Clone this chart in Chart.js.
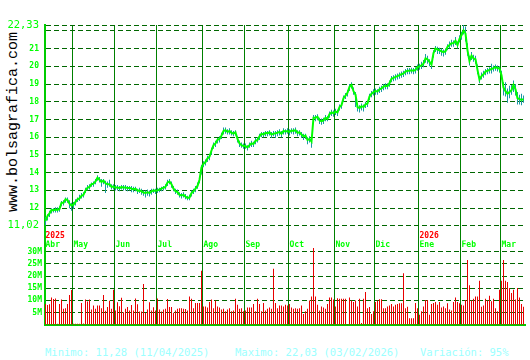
<!DOCTYPE html>
<html lang="es">
<head>
<meta charset="UTF-8">
<title>bolsagrafica - cotización</title>
<style>
  html, body { margin: 0; padding: 0; background: #fff; }
  #marco { position: relative; width: 530px; height: 360px; overflow: hidden; }
  canvas { position: absolute; left: 0; }
  #precio { top: 0; z-index: 2; }
  #volumen { top: 240px; z-index: 1; }
  .pie { position: absolute; top: 346px; font: 10.5px 'DejaVu Sans Mono', monospace; color: #9cffff; line-height: 13px; white-space: nowrap; }
  #web { position: absolute; left: 13px; top: 122px; transform: translate(-50%, -50%) rotate(-90deg); font: 15px 'Liberation Mono', monospace; color: #000; white-space: nowrap; }
</style>
</head>
<body>
<div id="marco">
  <div id="web">www.bolsagrafica.com</div>
  <canvas id="volumen" width="530" height="92"></canvas>
  <canvas id="precio" width="530" height="250"></canvas>
  <div class="pie" style="left:45px">Minimo: 11,28 (11/04/2025)</div>
  <div class="pie" style="left:235px">Maximo: 22,03 (03/02/2026)</div>
  <div class="pie" style="left:420px">Variación: 95%</div>
</div>

<script src="https://cdn.jsdelivr.net/npm/chart.js"></script>
<script>
// Meses y años (índice de la primera sesión de cada uno)
const meses = ['Abr', 'May', 'Jun', 'Jul', 'Ago', 'Sep', 'Oct', 'Nov', 'Dic', 'Ene', 'Feb', 'Mar'];
const inicioMes = [0, 14, 35, 56, 79, 100, 122, 145, 165, 187, 208, 228];
const anios = ['2025', '2026'];
const inicioAnio = [0, 187];

// Cotización diaria
const cierres = [
  11.28, 11.55, 11.70, 11.90, 11.88, 11.92, 11.90, 11.95, 12.30, 12.30,
  12.50, 12.45, 12.25, 12.15, 12.20, 12.35, 12.50, 12.55, 12.70, 12.75,
  13.00, 13.15, 13.20, 13.35, 13.38, 13.50, 13.72, 13.60, 13.48, 13.55,
  13.40, 13.35, 13.35, 13.20, 13.22, 13.15, 13.18, 13.12, 13.20, 13.15,
  13.18, 13.12, 13.15, 13.10, 13.05, 13.10, 12.98, 13.00, 12.95, 12.88,
  12.85, 12.90, 12.85, 12.95, 13.00, 12.98, 13.00, 13.05, 13.10, 13.15,
  13.20, 13.45, 13.50, 13.35, 13.10, 12.95, 12.90, 12.75, 12.72, 12.75,
  12.65, 12.58, 12.60, 12.85, 12.95, 13.10, 13.25, 13.60, 14.30, 14.50,
  14.60, 14.80, 14.90, 15.25, 15.55, 15.65, 15.85, 15.90, 16.10, 16.35,
  16.40, 16.30, 16.35, 16.25, 16.20, 16.28, 15.90, 15.65, 15.55, 15.50,
  15.50, 15.42, 15.55, 15.65, 15.62, 15.80, 15.85, 16.05, 16.20, 16.15,
  16.25, 16.22, 16.28, 16.15, 16.20, 16.22, 16.25, 16.30, 16.20, 16.35,
  16.32, 16.35, 16.30, 16.38, 16.35, 16.40, 16.25, 16.28, 16.15, 16.05,
  16.10, 15.85, 15.90, 15.75, 17.10, 17.10, 17.15, 16.95, 16.90, 16.95,
  17.10, 17.05, 17.30, 17.40, 17.35, 17.45, 17.40, 17.70, 17.80, 18.20,
  18.35, 18.50, 18.85, 18.95, 18.60, 18.40, 17.70, 17.65, 17.75, 17.70,
  17.85, 17.90, 18.30, 18.45, 18.55, 18.60, 18.58, 18.70, 18.75, 18.85,
  18.90, 18.88, 19.05, 19.30, 19.35, 19.40, 19.45, 19.50, 19.55, 19.60,
  19.70, 19.75, 19.75, 19.78, 19.75, 19.80, 19.95, 20.00, 20.05, 20.15,
  20.45, 20.40, 20.25, 20.10, 20.75, 21.00, 20.95, 20.90, 20.85, 20.80,
  20.85, 21.10, 21.20, 21.30, 21.30, 21.45, 21.20, 21.55, 21.75, 22.03,
  21.85, 20.90, 20.30, 20.60, 20.45, 20.40, 19.80, 19.25, 19.45, 19.55,
  19.70, 19.75, 19.80, 19.85, 19.90, 19.95, 19.90, 19.88, 19.50, 18.80,
  18.60, 18.45, 18.55, 18.65, 18.95, 18.70, 18.20, 18.15, 18.10, 18.15
];
const maximos = [
  11.50, 11.65, 11.85, 12.00, 12.00, 12.05, 12.05, 12.10, 12.40, 12.45,
  12.60, 12.60, 12.45, 12.30, 12.35, 12.50, 12.60, 12.75, 12.85, 12.90,
  13.15, 13.30, 13.35, 13.45, 13.50, 13.65, 13.85, 13.75, 13.65, 13.65,
  13.55, 13.50, 13.60, 13.35, 13.35, 13.30, 13.30, 13.25, 13.30, 13.30,
  13.30, 13.25, 13.25, 13.25, 13.20, 13.20, 13.10, 13.15, 13.10, 13.00,
  13.00, 13.05, 13.00, 13.10, 13.10, 13.10, 13.15, 13.15, 13.20, 13.25,
  13.35, 13.60, 13.65, 13.50, 13.25, 13.10, 13.05, 12.90, 12.85, 12.90,
  12.80, 12.70, 12.75, 13.00, 13.10, 13.25, 13.45, 13.75, 14.45, 14.65,
  14.75, 14.95, 15.05, 15.40, 15.70, 15.80, 15.95, 16.05, 16.25, 16.55,
  16.55, 16.45, 16.50, 16.40, 16.35, 16.40, 16.05, 15.80, 15.70, 15.65,
  15.65, 15.55, 15.70, 15.80, 15.75, 15.95, 16.00, 16.20, 16.30, 16.30,
  16.35, 16.35, 16.40, 16.30, 16.35, 16.35, 16.40, 16.45, 16.35, 16.50,
  16.45, 16.50, 16.45, 16.50, 16.50, 16.55, 16.40, 16.40, 16.30, 16.20,
  16.20, 16.00, 16.05, 15.90, 17.25, 17.25, 17.30, 17.10, 17.05, 17.10,
  17.25, 17.20, 17.45, 17.55, 17.50, 17.60, 17.55, 17.85, 17.95, 18.35,
  18.50, 18.65, 19.00, 19.10, 18.80, 18.55, 17.90, 17.80, 17.90, 17.85,
  18.00, 18.05, 18.45, 18.60, 18.70, 18.75, 18.70, 18.85, 18.90, 19.00,
  19.05, 19.05, 19.20, 19.45, 19.50, 19.55, 19.60, 19.65, 19.70, 19.75,
  19.85, 19.90, 19.90, 19.92, 19.90, 19.95, 20.10, 20.15, 20.25, 20.35,
  20.70, 20.60, 20.40, 20.30, 20.90, 21.15, 21.10, 21.05, 21.00, 20.95,
  21.00, 21.25, 21.40, 21.50, 21.45, 21.65, 21.40, 21.75, 21.95, 22.33,
  22.25, 21.30, 20.60, 20.80, 20.65, 20.60, 20.10, 19.45, 19.65, 19.75,
  19.85, 19.90, 19.95, 20.15, 20.05, 20.10, 20.05, 20.00, 19.75, 19.10,
  19.10, 18.75, 18.90, 18.95, 19.20, 19.00, 18.55, 18.40, 18.45, 18.35
];
const minimos = [
  11.02, 11.30, 11.50, 11.70, 11.75, 11.75, 11.75, 11.80, 12.10, 12.15,
  12.30, 12.30, 12.00, 11.85, 11.95, 12.15, 12.35, 12.40, 12.55, 12.60,
  12.85, 13.00, 13.05, 13.20, 13.20, 13.35, 13.55, 13.45, 13.20, 13.35,
  12.85, 13.15, 13.20, 13.05, 13.05, 13.00, 13.00, 12.95, 13.05, 13.00,
  13.00, 12.95, 13.00, 12.90, 12.90, 12.95, 12.80, 12.85, 12.75, 12.70,
  12.60, 12.70, 12.65, 12.75, 12.85, 12.80, 12.85, 12.90, 12.95, 13.00,
  13.05, 13.25, 13.35, 13.15, 12.95, 12.80, 12.75, 12.60, 12.55, 12.60,
  12.50, 12.45, 12.45, 12.65, 12.80, 12.90, 13.10, 13.40, 13.90, 14.30,
  14.40, 14.60, 14.70, 15.00, 15.35, 15.45, 15.65, 15.70, 15.90, 16.15,
  16.20, 16.15, 16.15, 16.10, 16.05, 16.10, 15.70, 15.45, 15.40, 15.35,
  15.35, 15.25, 15.40, 15.45, 15.45, 15.60, 15.70, 15.85, 16.00, 16.00,
  16.05, 16.05, 16.10, 15.95, 16.05, 15.95, 16.05, 16.10, 16.00, 16.15,
  16.15, 16.20, 16.10, 16.20, 16.15, 16.20, 16.05, 16.10, 15.95, 15.85,
  15.90, 15.60, 15.70, 15.40, 16.95, 16.90, 16.95, 16.75, 16.70, 16.75,
  16.90, 16.90, 17.10, 17.20, 17.15, 17.25, 17.20, 17.50, 17.60, 18.00,
  18.15, 18.30, 18.60, 18.75, 18.40, 17.70, 17.45, 17.40, 17.50, 17.45,
  17.65, 17.70, 18.10, 18.25, 18.35, 18.40, 18.40, 18.50, 18.55, 18.65,
  18.70, 18.70, 18.85, 19.10, 19.15, 19.20, 19.25, 19.30, 19.35, 19.40,
  19.50, 19.55, 19.55, 19.60, 19.55, 19.60, 19.75, 19.80, 19.85, 19.95,
  20.20, 20.15, 20.00, 19.85, 20.50, 20.80, 20.70, 20.70, 20.60, 20.55,
  20.65, 20.90, 21.00, 21.10, 21.10, 21.20, 21.00, 21.35, 21.50, 21.80,
  21.40, 20.60, 20.05, 20.35, 20.25, 20.15, 19.55, 19.05, 19.25, 19.35,
  19.50, 19.55, 19.60, 19.60, 19.70, 19.75, 19.70, 19.65, 19.25, 18.35,
  18.30, 17.95, 18.20, 18.40, 18.55, 18.35, 17.85, 17.85, 17.80, 17.95
];

// Volumen diario (millones)
const volumen = [
  8.5, 8.1, 8.4, 11.2, 10.6, 10.8, 0.4, 8.5, 10.3, 6.5,
  6.8, 8.5, 12.2, 14.2, 0.4, 0.4, 0.4, 0.4, 8.9, 0.5,
  10.3, 9.5, 10.3, 6.2, 7.9, 6.5, 7.9, 7.9, 6.8, 12.2,
  5.7, 7.3, 9.8, 6.5, 14.4, 5.8, 9.2, 7.6, 11.1, 5.1,
  6.5, 7.3, 5.8, 8.1, 5.8, 10.8, 8.4, 5.4, 5.4, 16.7,
  4.9, 6.2, 9.2, 5.8, 7.2, 5.8, 10.8, 6.2, 5.4, 6.2,
  6.5, 10.6, 7.3, 7.3, 4.9, 5.8, 6.5, 6.8, 6.8, 6.6,
  6.4, 5.8, 11.6, 10.7, 6.8, 8.9, 8.9, 8.9, 22.2, 7.5,
  7.5, 7.1, 9.3, 10.3, 6.8, 9.9, 7.5, 7.1, 6.2, 6.6,
  5.5, 6.2, 6.8, 5.5, 5.8, 10.7, 8.2, 6.6, 6.8, 5.5,
  5.8, 7.1, 7.1, 7.1, 8.5, 5.5, 10.7, 8.5, 5.5, 8.9,
  5.8, 6.6, 7.1, 6.6, 23.0, 8.9, 6.8, 7.9, 7.9, 7.5,
  8.2, 7.9, 8.5, 7.1, 6.6, 6.8, 6.6, 6.8, 7.9, 4.4,
  5.5, 6.6, 9.9, 11.6, 31.5, 11.6, 8.2, 5.8, 7.5, 7.1,
  6.6, 8.5, 11.2, 11.2, 10.3, 7.5, 10.9, 10.7, 10.7, 10.7,
  10.7, 0.3, 11.2, 9.9, 9.3, 9.9, 7.5, 10.7, 0.7, 10.7,
  13.4, 6.8, 7.3, 4.4, 5.5, 9.3, 9.9, 10.5, 10.5, 6.8,
  6.8, 7.5, 7.9, 8.5, 7.5, 8.2, 8.5, 8.8, 8.8, 21.1,
  6.8, 7.4, 2.7, 2.7, 2.7, 8.9, 6.8, 4.1, 5.5, 7.5,
  10.1, 10.1, 4.1, 8.5, 8.9, 9.3, 8.2, 9.3, 7.1, 7.5,
  6.8, 8.8, 6.2, 5.8, 9.3, 11.2, 9.3, 8.8, 8.2, 7.9,
  10.1, 26.6, 16.2, 9.9, 10.7, 11.6, 11.6, 18.1, 7.4, 7.9,
  10.7, 9.9, 11.9, 9.6, 10.7, 6.8, 5.5, 14.4, 18.1, 26.6,
  18.1, 17.5, 15.1, 13.0, 14.4, 10.3, 15.1, 11.2, 8.5, 7.4
];

// Marcas de los ejes
const ticksPrecio = [11.02, 12, 13, 14, 15, 16, 17, 18, 19, 20, 21, 22, 22.33];
const ticksVolumen = [5, 10, 15, 20, 25, 30];

const VERDE = '#00ff00';
const VERDE_EJE = '#00cc00';
const REJILLA = '#006600';
const LINEA_MES = '#008000';
const FUENTE = 'DejaVu Sans Mono';

const etiquetas = cierres.map((_, i) => i);
const velas = minimos.map((m, i) => [m, maximos[i]]);

// Solo se pintan las líneas verticales de inicio de mes
function colorMes(c) {
    if (c.index === 0) return VERDE_EJE;
    return inicioMes.includes(c.index) ? LINEA_MES : 'rgba(0,0,0,0)';
}
function anchoMes(c) {
    return c.index === 0 ? 2 : 1;
}

// Gráfico de precio
new Chart(document.getElementById('precio'), {
    type: 'bar',
    data: {
        labels: etiquetas,
        datasets: [
            {
                type: 'line',
                data: cierres,
                borderColor: VERDE,
                borderWidth: 2,
                pointRadius: 0,
                tension: 0,
                order: 0
            },
            {
                type: 'bar',
                data: velas,
                backgroundColor: '#1c98a6',
                barThickness: 1,
                inflateAmount: 0,
                order: 1
            }
        ]
    },
    options: {
        responsive: false,
        animation: false,
        devicePixelRatio: 1,
        layout: { padding: { top: 25, right: 5.5, left: 0, bottom: 0 } },
        plugins: { legend: { display: false }, tooltip: { enabled: false } },
        scales: {
            // años (rojo) justo bajo el gráfico; las marcas prolongan las líneas de mes
            x: {
                type: 'category',
                position: 'bottom',
                offset: true,
                weight: 0,
                grid: { offset: true, color: colorMes, lineWidth: anchoMes, tickColor: colorMes, tickWidth: anchoMes, drawTicks: true, tickLength: 25 },
                border: { display: false },
                ticks: {
                    autoSkip: false, maxRotation: 0, minRotation: 0, align: 'start', padding: -19,
                    color: '#ff0000',
                    font: { family: FUENTE, size: 8, weight: 'bold' },
                    callback: (v, i) => {
                        const k = inicioAnio.indexOf(i);
                        return k >= 0 ? anios[k] : '';
                    }
                },
                afterFit: s => { s.height = 15; }
            },
            // meses (verde)
            x2: {
                type: 'category',
                axis: 'x',
                position: 'bottom',
                offset: true,
                weight: 1,
                grid: { display: false, drawTicks: false },
                border: { display: false },
                ticks: {
                    autoSkip: false, maxRotation: 0, minRotation: 0, align: 'start', padding: -0.5,
                    color: VERDE,
                    font: { family: FUENTE, size: 8, weight: 'bold' },
                    callback: (v, i) => {
                        const k = inicioMes.indexOf(i);
                        return k >= 0 ? meses[k] : '';
                    }
                },
                afterFit: s => { s.height = 9.5; }
            },
            y: {
                min: 11.02,
                max: 22.33,
                afterBuildTicks: s => { s.ticks = ticksPrecio.map(v => ({ value: v })); },
                grid: { color: REJILLA, drawTicks: false },
                border: { display: true, color: VERDE_EJE, width: 2, dash: [5, 3] },
                ticks: {
                    padding: 5.5,
                    color: VERDE,
                    font: c => (c.tick && (c.tick.value === 11.02 || c.tick.value === 22.33))
                        ? { family: FUENTE, size: 10.5, weight: 'normal' }
                        : { family: FUENTE, size: 8, weight: 'bold' },
                    callback: v => v === 22 ? '' : String(v).replace('.', ',')
                },
                afterFit: s => { s.width = 44.5; }
            }
        }
    }
});

// Gráfico de volumen
new Chart(document.getElementById('volumen'), {
    type: 'bar',
    data: {
        labels: etiquetas,
        datasets: [{
            data: volumen,
            backgroundColor: '#e80000',
            barThickness: 1,
            inflateAmount: 0
        }]
    },
    options: {
        responsive: false,
        animation: false,
        devicePixelRatio: 1,
        layout: { padding: { top: 8, right: 5.5, left: 0, bottom: 0 } },
        plugins: { legend: { display: false }, tooltip: { enabled: false } },
        scales: {
            x: {
                type: 'category',
                offset: true,
                grid: { offset: true, color: colorMes, lineWidth: anchoMes, drawTicks: false },
                border: { display: true, color: VERDE_EJE, width: 2 },
                ticks: { display: false },
                afterFit: s => { s.height = 6; }
            },
            y: {
                min: 0,
                max: 31.5,
                afterBuildTicks: s => { s.ticks = ticksVolumen.map(v => ({ value: v })); },
                grid: { color: REJILLA, drawTicks: false },
                border: { display: true, color: VERDE_EJE, width: 2, dash: [5, 3] },
                ticks: {
                    padding: 2.5,
                    color: VERDE,
                    font: { family: FUENTE, size: 8, weight: 'bold' },
                    callback: v => v + 'M'
                },
                afterFit: s => { s.width = 44.5; }
            }
        }
    }
});
</script>
</body>
</html>
